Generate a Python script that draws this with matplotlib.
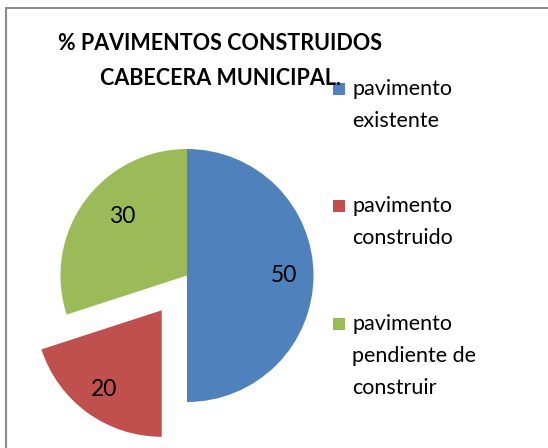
import matplotlib.pyplot as plt
from matplotlib.patches import Rectangle

plt.rcParams['font.family'] = ['Lato', 'DejaVu Sans']

categorias = ['pavimento\nexistente', 'pavimento\nconstruido', 'pavimento\npendiente de\nconstruir']
valores = [50, 20, 30]
colores = ['#4F81BD', '#C0504D', '#9BBB59']
separacion = [0, 0.34, 0]
titulo = '% PAVIMENTOS CONSTRUIDOS\nCABECERA MUNICIPAL.'

W, H = 548, 448
fig = plt.figure(figsize=(W / 100, H / 100), dpi=100)

# borde del grafico
fig.patches.append(Rectangle((6 / W, -0.05), 1.0, (H - 8) / H + 0.05,
                             transform=fig.transFigure, fill=False,
                             edgecolor='#8c8c8c', linewidth=1.5))

# ejes en pixeles: centro (187, 275.5), radio 126.5
r = 126.5
cx, cy = 187, H - 275.5
ax = fig.add_axes([(cx - 1.4 * r) / W, (cy - 1.4 * r) / H, 2.8 * r / W, 2.8 * r / H])
wedges, textos, autotextos = ax.pie(
    valores, colors=colores, explode=separacion, startangle=90,
    counterclock=False, autopct=lambda p: f'{round(p)}', pctdistance=0.77,
    textprops={'fontsize': 16.5})
# etiqueta verde un poco mas cerca del centro
x, y = autotextos[2].get_position()
autotextos[2].set_position((x * 0.82, y * 1.03))
ax.set_xlim(-1.4, 1.4)
ax.set_ylim(-1.4, 1.4)
ax.axis('off')

fig.text(220 / W, 1 - 33 / H, titulo, ha='center', va='top', fontsize=15.5,
         fontweight='bold', linespacing=1.8)

# leyenda
y_top = [79, 196, 314]
for w, nombre, y in zip(wedges, categorias, y_top):
    fig.patches.append(Rectangle((333 / W, 1 - (y + 16) / H), 12 / W, 12 / H,
                                 transform=fig.transFigure,
                                 facecolor=w.get_facecolor(), edgecolor='none'))
    fig.text(352 / W, 1 - y / H, nombre, ha='left', va='top', fontsize=15.5,
             linespacing=1.75)

fig.savefig('out.png', dpi=100)
